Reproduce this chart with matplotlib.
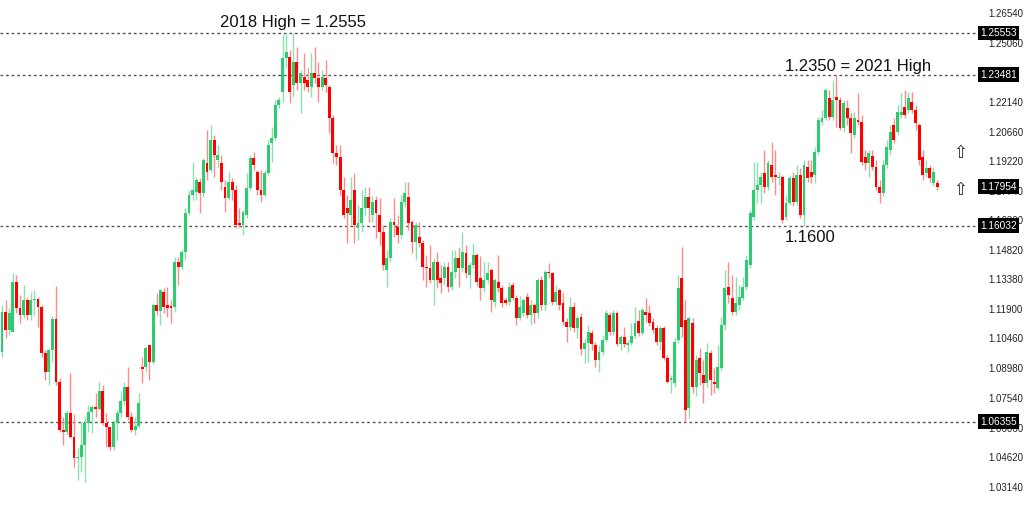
import matplotlib.pyplot as plt
import numpy as np

# weekly candles (oldest -> newest)
opens = [
    1.0978, 1.1176, 1.1087, 1.1077, 1.1324, 1.1195, 1.1161, 1.1235, 1.1161, 1.1235,
    1.1240, 1.1200, 1.0973, 1.0879, 1.0988, 1.1141, 1.0830, 1.0593, 1.0583, 1.0677,
    1.0558, 1.0454, 1.0459, 1.0518, 1.0627, 1.0682, 1.0706, 1.0696, 1.0785, 1.0627,
    1.0607, 1.0508, 1.0627, 1.0677, 1.0736, 1.0805, 1.0657, 1.0593, 1.0612, 1.0904,
    1.0904, 1.1012, 1.0929, 1.1210, 1.1181, 1.1274, 1.1210, 1.1205, 1.1200, 1.1423,
    1.1398, 1.1472, 1.1665, 1.1753, 1.1768, 1.1818, 1.1763, 1.1912, 1.1877, 1.2025,
    1.1927, 1.1912, 1.1793, 1.1739, 1.1818, 1.1778, 1.1615, 1.1606, 1.1655, 1.1788,
    1.1937, 1.1867, 1.1778, 1.1753, 1.1862, 1.2010, 1.2035, 1.2198, 1.2262, 1.2431,
    1.2436, 1.2297, 1.2411, 1.2307, 1.2336, 1.2322, 1.2287, 1.2356, 1.2332, 1.2287,
    1.2332, 1.2287, 1.2134, 1.1961, 1.1941, 1.1778, 1.1690, 1.1655, 1.1778, 1.1591,
    1.1615, 1.1690, 1.1744, 1.1655, 1.1729, 1.1655, 1.1571, 1.1383, 1.1443, 1.1620,
    1.1596, 1.1556, 1.1719, 1.1744, 1.1620, 1.1521, 1.1546, 1.1516, 1.1398, 1.1393,
    1.1334, 1.1423, 1.1344, 1.1344, 1.1398, 1.1299, 1.1373, 1.1443, 1.1393, 1.1467,
    1.1358, 1.1408, 1.1458, 1.1344, 1.1294, 1.1334, 1.1383, 1.1225, 1.1324, 1.1294,
    1.1235, 1.1225, 1.1309, 1.1245, 1.1146, 1.1171, 1.1249, 1.1161, 1.1210, 1.1171,
    1.1334, 1.1210, 1.1373, 1.1368, 1.1225, 1.1284, 1.1220, 1.1126, 1.1102, 1.1200,
    1.1097, 1.1151, 1.0993, 1.1022, 1.1072, 1.1012, 1.0939, 1.0978, 1.1037, 1.1161,
    1.1077, 1.1171, 1.1017, 1.1052, 1.1012, 1.1022, 1.1057, 1.1131, 1.1072, 1.1176,
    1.1171, 1.1126, 1.1097, 1.1027, 1.1097, 1.0949, 1.0840, 1.0825, 1.1037, 1.1344,
    1.1136, 1.0701, 1.1121, 1.0805, 1.0949, 1.0864, 1.0825, 1.0973, 1.0830, 1.0800,
    1.0899, 1.1112, 1.1299, 1.1245, 1.1176, 1.1210, 1.1245, 1.1299, 1.1408, 1.1645,
    1.1778, 1.1803, 1.1862, 1.1793, 1.1902, 1.1852, 1.1838, 1.1843, 1.1645, 1.1714,
    1.1838, 1.1719, 1.1852, 1.1655, 1.1892, 1.1867, 1.1852, 1.1966, 1.2114, 1.2134,
    1.2233, 1.2139, 1.2238, 1.2223, 1.2085, 1.2184, 1.2134, 1.2050, 1.2124, 1.2114,
    1.1941, 1.1912, 1.1946, 1.1892, 1.1793, 1.1763, 1.1902, 1.1976, 1.2099, 1.2065,
    1.2149, 1.2188, 1.2174, 1.2213, 1.2174, 1.2099, 1.1941, 1.1862, 1.1887, 1.1813,
    1.1813,
]
highs = [
    1.1210, 1.1235, 1.1195, 1.1368, 1.1358, 1.1259, 1.1309, 1.1249, 1.1274, 1.1284,
    1.1249, 1.1210, 1.0988, 1.0998, 1.1156, 1.1304, 1.0850, 1.0657, 1.0692, 1.0874,
    1.0672, 1.0503, 1.0632, 1.0657, 1.0716, 1.0716, 1.0775, 1.0830, 1.0815, 1.0677,
    1.0607, 1.0642, 1.0692, 1.0780, 1.0830, 1.0904, 1.0682, 1.0657, 1.0775, 1.0953,
    1.1008, 1.1012, 1.1220, 1.1269, 1.1289, 1.1294, 1.1299, 1.1235, 1.1448, 1.1448,
    1.1487, 1.1690, 1.1778, 1.1917, 1.1843, 1.1838, 1.1937, 1.2075, 1.2099, 1.2050,
    1.2000, 1.1951, 1.1828, 1.1867, 1.1838, 1.1803, 1.1690, 1.1680, 1.1862, 1.1951,
    1.1966, 1.1877, 1.1877, 1.1877, 1.2025, 1.2090, 1.2223, 1.2238, 1.2544, 1.2555,
    1.2470, 1.2554, 1.2485, 1.2371, 1.2455, 1.2381, 1.2455, 1.2485, 1.2411, 1.2371,
    1.2421, 1.2297, 1.2149, 1.2000, 1.2000, 1.1843, 1.1753, 1.1843, 1.1862, 1.1704,
    1.1778, 1.1793, 1.1793, 1.1749, 1.1749, 1.1739, 1.1606, 1.1482, 1.1640, 1.1739,
    1.1655, 1.1753, 1.1818, 1.1818, 1.1630, 1.1620, 1.1620, 1.1531, 1.1458, 1.1507,
    1.1443, 1.1472, 1.1408, 1.1423, 1.1423, 1.1482, 1.1482, 1.1497, 1.1571, 1.1507,
    1.1423, 1.1516, 1.1467, 1.1453, 1.1423, 1.1423, 1.1393, 1.1344, 1.1458, 1.1309,
    1.1249, 1.1324, 1.1324, 1.1259, 1.1254, 1.1245, 1.1269, 1.1235, 1.1220, 1.1344,
    1.1354, 1.1383, 1.1418, 1.1373, 1.1309, 1.1294, 1.1269, 1.1146, 1.1249, 1.1225,
    1.1161, 1.1171, 1.1047, 1.1112, 1.1087, 1.1027, 1.1012, 1.1062, 1.1186, 1.1176,
    1.1186, 1.1181, 1.1062, 1.1102, 1.1037, 1.1121, 1.1200, 1.1186, 1.1200, 1.1245,
    1.1210, 1.1146, 1.1112, 1.1107, 1.1107, 1.0963, 1.0864, 1.1047, 1.1358, 1.1497,
    1.1235, 1.1151, 1.1146, 1.0963, 1.0998, 1.0939, 1.1022, 1.0988, 1.0899, 1.1012,
    1.1151, 1.1383, 1.1423, 1.1358, 1.1348, 1.1309, 1.1348, 1.1458, 1.1680, 1.1917,
    1.1917, 1.1867, 1.1976, 1.1927, 1.2015, 1.1976, 1.1867, 1.1852, 1.1753, 1.1852,
    1.1867, 1.1902, 1.1887, 1.1927, 1.1927, 1.1927, 1.1991, 1.2139, 1.2174, 1.2282,
    1.2272, 1.2322, 1.2349, 1.2238, 1.2223, 1.2223, 1.2159, 1.2164, 1.2257, 1.2149,
    1.1976, 1.1976, 1.1976, 1.1927, 1.1828, 1.1927, 1.2025, 1.2099, 1.2134, 1.2198,
    1.2257, 1.2272, 1.2262, 1.2262, 1.2198, 1.2109, 1.1976, 1.1927, 1.1902, 1.1892,
    1.1828,
]
lows = [
    1.0953, 1.1047, 1.1062, 1.1151, 1.1171, 1.1121, 1.1146, 1.1136, 1.1136, 1.1156,
    1.1102, 1.0953, 1.0840, 1.0815, 1.0929, 1.0815, 1.0583, 1.0518, 1.0568, 1.0553,
    1.0410, 1.0346, 1.0385, 1.0336, 1.0583, 1.0578, 1.0657, 1.0692, 1.0617, 1.0508,
    1.0494, 1.0494, 1.0543, 1.0657, 1.0716, 1.0642, 1.0583, 1.0568, 1.0603, 1.0825,
    1.0879, 1.0840, 1.0919, 1.1161, 1.1112, 1.1171, 1.1151, 1.1121, 1.1176, 1.1309,
    1.1383, 1.1433, 1.1655, 1.1729, 1.1729, 1.1665, 1.1744, 1.1828, 1.1867, 1.1843,
    1.1887, 1.1778, 1.1670, 1.1729, 1.1729, 1.1591, 1.1596, 1.1556, 1.1640, 1.1778,
    1.1877, 1.1753, 1.1719, 1.1744, 1.1852, 1.1917, 1.2025, 1.2184, 1.2213, 1.2386,
    1.2208, 1.2238, 1.2272, 1.2159, 1.2272, 1.2262, 1.2238, 1.2307, 1.2213, 1.2272,
    1.2262, 1.2060, 1.1912, 1.1902, 1.1753, 1.1640, 1.1516, 1.1606, 1.1516, 1.1531,
    1.1571, 1.1655, 1.1620, 1.1620, 1.1541, 1.1507, 1.1383, 1.1299, 1.1423, 1.1546,
    1.1516, 1.1541, 1.1695, 1.1581, 1.1467, 1.1433, 1.1496, 1.1334, 1.1299, 1.1319,
    1.1210, 1.1294, 1.1269, 1.1309, 1.1274, 1.1284, 1.1344, 1.1299, 1.1373, 1.1344,
    1.1294, 1.1393, 1.1304, 1.1235, 1.1274, 1.1319, 1.1176, 1.1200, 1.1274, 1.1200,
    1.1210, 1.1210, 1.1235, 1.1112, 1.1136, 1.1156, 1.1146, 1.1112, 1.1121, 1.1146,
    1.1186, 1.1186, 1.1344, 1.1210, 1.1210, 1.1186, 1.1112, 1.1027, 1.1087, 1.1077,
    1.1047, 1.0963, 1.0924, 1.0929, 1.0988, 1.0904, 1.0879, 1.0963, 1.1027, 1.1062,
    1.1062, 1.1007, 1.0988, 1.1002, 1.0978, 1.1012, 1.1047, 1.1057, 1.1062, 1.1126,
    1.1107, 1.1072, 1.1012, 1.0988, 1.0939, 1.0825, 1.0775, 1.0805, 1.1022, 1.1052,
    1.0636, 1.0652, 1.0775, 1.0760, 1.0815, 1.0726, 1.0805, 1.0766, 1.0775, 1.0790,
    1.0889, 1.1087, 1.1220, 1.1161, 1.1161, 1.1186, 1.1235, 1.1284, 1.1393, 1.1630,
    1.1714, 1.1714, 1.1763, 1.1778, 1.1818, 1.1753, 1.1803, 1.1615, 1.1630, 1.1704,
    1.1700, 1.1704, 1.1640, 1.1603, 1.1818, 1.1813, 1.1813, 1.1951, 1.2099, 1.2124,
    1.2124, 1.2124, 1.2090, 1.2075, 1.2065, 1.2099, 1.1961, 1.2035, 1.2099, 1.1902,
    1.1877, 1.1843, 1.1877, 1.1778, 1.1714, 1.1749, 1.1887, 1.1951, 1.2010, 1.2050,
    1.2134, 1.2134, 1.2159, 1.2159, 1.2075, 1.1902, 1.1828, 1.1843, 1.1818, 1.1798,
    1.1778,
]
closes = [
    1.1176, 1.1087, 1.1171, 1.1324, 1.1195, 1.1161, 1.1235, 1.1161, 1.1235, 1.1240,
    1.1200, 1.0973, 1.0879, 1.0988, 1.1141, 1.0830, 1.0593, 1.0583, 1.0677, 1.0558,
    1.0454, 1.0459, 1.0518, 1.0627, 1.0682, 1.0706, 1.0696, 1.0785, 1.0627, 1.0607,
    1.0508, 1.0627, 1.0677, 1.0736, 1.0805, 1.0657, 1.0593, 1.0612, 1.0726, 1.0894,
    1.0998, 1.0929, 1.1210, 1.1181, 1.1284, 1.1200, 1.1195, 1.1195, 1.1423, 1.1398,
    1.1472, 1.1665, 1.1753, 1.1778, 1.1828, 1.1763, 1.1927, 1.1867, 1.2025, 1.1951,
    1.1951, 1.1818, 1.1739, 1.1818, 1.1778, 1.1606, 1.1606, 1.1670, 1.1788, 1.1937,
    1.1902, 1.1778, 1.1753, 1.1862, 1.2000, 1.2035, 1.2198, 1.2223, 1.2431, 1.2460,
    1.2262, 1.2411, 1.2307, 1.2356, 1.2307, 1.2287, 1.2356, 1.2332, 1.2287, 1.2336,
    1.2297, 1.2134, 1.1961, 1.1941, 1.1778, 1.1655, 1.1665, 1.1729, 1.1606, 1.1615,
    1.1690, 1.1744, 1.1690, 1.1719, 1.1665, 1.1571, 1.1408, 1.1443, 1.1620, 1.1606,
    1.1556, 1.1719, 1.1763, 1.1615, 1.1521, 1.1606, 1.1516, 1.1398, 1.1393, 1.1334,
    1.1423, 1.1334, 1.1319, 1.1398, 1.1299, 1.1373, 1.1443, 1.1393, 1.1472, 1.1368,
    1.1408, 1.1458, 1.1324, 1.1294, 1.1334, 1.1368, 1.1235, 1.1334, 1.1294, 1.1220,
    1.1220, 1.1299, 1.1245, 1.1146, 1.1200, 1.1235, 1.1161, 1.1210, 1.1171, 1.1334,
    1.1210, 1.1373, 1.1368, 1.1225, 1.1274, 1.1210, 1.1126, 1.1102, 1.1200, 1.1097,
    1.1146, 1.0993, 1.1022, 1.1077, 1.1017, 1.0939, 1.0978, 1.1037, 1.1171, 1.1077,
    1.1171, 1.1017, 1.1052, 1.1017, 1.1022, 1.1057, 1.1121, 1.1072, 1.1186, 1.1161,
    1.1121, 1.1087, 1.1027, 1.1097, 1.0949, 1.0830, 1.0850, 1.1027, 1.1294, 1.1102,
    1.0692, 1.1146, 1.0805, 1.0939, 1.0874, 1.0825, 1.0978, 1.0840, 1.0820, 1.0904,
    1.1112, 1.1294, 1.1259, 1.1176, 1.1220, 1.1249, 1.1299, 1.1433, 1.1665, 1.1778,
    1.1803, 1.1843, 1.1793, 1.1912, 1.1843, 1.1843, 1.1843, 1.1630, 1.1714, 1.1838,
    1.1719, 1.1852, 1.1655, 1.1902, 1.1838, 1.1843, 1.1966, 1.2124, 1.2134, 1.2272,
    1.2139, 1.2223, 1.2223, 1.2085, 1.2208, 1.2134, 1.2060, 1.2134, 1.2114, 1.1917,
    1.1912, 1.1961, 1.1892, 1.1793, 1.1763, 1.1902, 1.1991, 1.2065, 1.2025, 1.2164,
    1.2164, 1.2149, 1.2233, 1.2174, 1.2109, 1.1927, 1.1852, 1.1887, 1.1838, 1.1867,
    1.1795,
]

levels = [1.25553, 1.23481, 1.16032, 1.06355]  # dotted support / resistance lines
last_price = 1.17954
yticks = [1.26540, 1.25060, 1.22140, 1.20660, 1.19220, 1.17740, 1.16300,
          1.14820, 1.13380, 1.11900, 1.10460, 1.08980, 1.07540, 1.06060, 1.04620, 1.03140]

o = np.array(opens)
h = np.array(highs)
l = np.array(lows)
c = np.array(closes)
x = np.arange(len(c))
up = c >= o

green = '#2ecc71'
red = '#ff0000'

fig = plt.figure(figsize=(10.24, 5.05), dpi=100)
ax = fig.add_axes([0, 0, 977 / 1024, 1])

# wicks (lighter), then bodies
ax.vlines(x[up], l[up], h[up], color='#8fe0b0', lw=1, zorder=2)
ax.vlines(x[~up], l[~up], h[~up], color='#ff8a8a', lw=1, zorder=2)
body = np.maximum(np.abs(c - o), 0.0004)
bottom = np.minimum(o, c)
ax.bar(x[up], body[up], bottom=bottom[up], width=0.8, color=green, linewidth=0, zorder=3)
ax.bar(x[~up], body[~up], bottom=bottom[~up], width=0.8, color=red, linewidth=0, zorder=3)

for lv in levels:
    ax.axhline(lv, color='#555555', lw=1, ls=(0, (2, 2)), zorder=1)

ax.set_xlim(-0.56, 271.1)
ax.set_ylim(1.0224, 1.2717)
for s in ax.spines.values():
    s.set_visible(False)
ax.set_xticks([])
ax.yaxis.tick_right()
ax.set_yticks(yticks)
ax.set_yticklabels([f'{t:.5f}' for t in yticks], fontfamily='Liberation Sans')
ax.tick_params(axis='y', length=0, pad=8, labelsize=7, labelcolor='#222222')

# black price tags on the right axis (they cover the tick labels underneath, as in MT4)
for lv in levels + [last_price]:
    ax.text(1.003, lv, f'{lv:.5f}', transform=ax.get_yaxis_transform(), clip_on=False,
            ha='left', va='center', fontsize=7.3, color='white', family='Liberation Sans',
            bbox=dict(boxstyle='square,pad=0.22', fc='black', ec='none'), zorder=10)

ax.text(60.6, 1.2608, '2018 High = 1.2555', fontsize=12, family='Liberation Sans',
        ha='left', va='center', color='#111111')
ax.text(217.7, 1.2391, '1.2350 = 2021 High', fontsize=12, family='Liberation Sans',
        ha='left', va='center', color='#111111')
ax.text(217.7, 1.1547, '1.1600', fontsize=12, family='Liberation Sans',
        ha='left', va='center', color='#111111')

# trend arrows near the last candles
for ya in [1.1961, 1.1779]:
    ax.text(266.4, ya, '\u21e7', fontsize=12, family='DejaVu Sans',
            ha='center', va='center', color='#222222')

fig.savefig('out.png', dpi=100, facecolor='white')
